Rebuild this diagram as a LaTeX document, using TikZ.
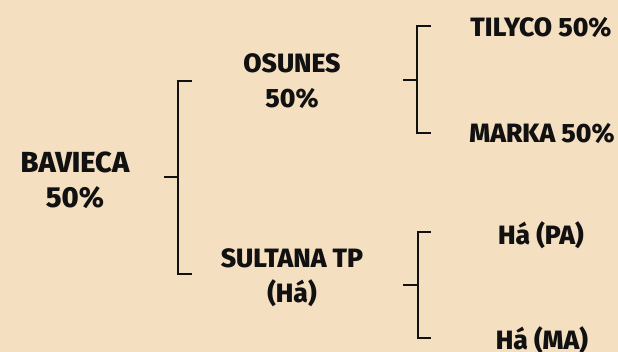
\documentclass[tikz,border=0pt]{standalone}
\usepackage{fontspec}
\setmainfont{Fira Sans}[BoldFont={Fira Sans ExtraBold}]
\definecolor{bg}{HTML}{F5DFC1}
\definecolor{ink}{HTML}{111111}
\begin{document}
\begin{tikzpicture}[x=1pt,y=-1pt,
  lbl/.style={text=ink,font=\bfseries\fontsize{26.5}{35}\selectfont,align=center,inner sep=0pt},
  big/.style={lbl,font=\bfseries\fontsize{29}{35}\selectfont},
  brk/.style={draw=ink,line width=2.4pt,line cap=butt,line join=miter}]
\fill[bg] (0,0) rectangle (618,352);
\useasboundingbox (0,0) rectangle (618,352);
% labels
\node[big] (bav) at (75,180) {BAVIECA\\50\%};
\node[lbl] (osu) at (292,81) {OSUNES\\50\%};
\node[lbl] (sul) at (292,278) {SULTANA TP\\(Há)};
\node[lbl] (til) at (541,27) {TILYCO 50\%};
\node[lbl] (mar) at (542,133) {MARKA 50\%};
\node[lbl] (hpa) at (541,235) {Há (PA)};
\node[lbl] (hma) at (542,340) {Há (MA)};
% bracket 1
\coordinate (b1m) at (164,177);
\coordinate (b1t) at (192,81);
\coordinate (b1b) at (192,274);
\draw[brk] (b1t) -- (178,81) -- (178,274) -- (b1b);
\draw[brk] (b1m) -- (178,177);
% bracket 2
\coordinate (b2m) at (403,80);
\coordinate (b2t) at (431,26);
\coordinate (b2b) at (431,133);
\draw[brk] (b2t) -- (417,26) -- (417,133) -- (b2b);
\draw[brk] (b2m) -- (417,80);
% bracket 3
\coordinate (b3m) at (403,285);
\coordinate (b3t) at (431,232);
\coordinate (b3b) at (431,338);
\draw[brk] (b3t) -- (418,232) -- (418,338) -- (b3b);
\draw[brk] (b3m) -- (418,285);
\end{tikzpicture}
\end{document}
